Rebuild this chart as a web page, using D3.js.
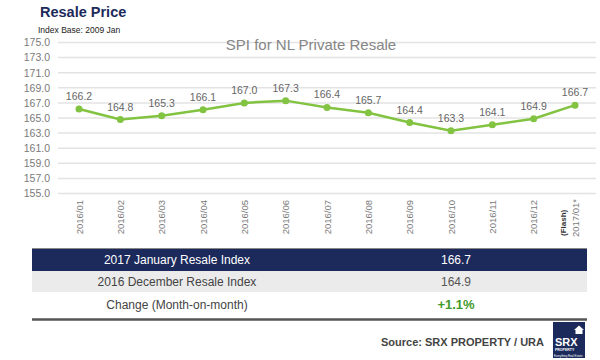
<!DOCTYPE html>
<html>
<head>
<meta charset="utf-8">
<script src="https://cdn.jsdelivr.net/npm/d3@7"></script>
<style>
  body { margin: 0; background: #fff; }
  svg { display: block; font-family: Arial, "Liberation Sans", sans-serif; }
</style>
</head>
<body>
<div id="chart"></div>
<script>
'use strict';

// chart data
const months = ['2016/01', '2016/02', '2016/03', '2016/04', '2016/05', '2016/06',
    '2016/07', '2016/08', '2016/09', '2016/10', '2016/11', '2016/12', '2017/01*'];
const spiValues = [166.2, 164.8, 165.3, 166.1, 167.0, 167.3, 166.4, 165.7, 164.4, 163.3, 164.1, 164.9, 166.7];
const yTicks = [155, 157, 159, 161, 163, 165, 167, 169, 171, 173, 175];

// summary table
const tableLabels = ['2017 January Resale Index', '2016 December Resale Index', 'Change (Month-on-month)'];
const tableValues = ['166.7', '164.9', '+1.1%'];

const width = 600, height = 360;
const navy = '#1c2a5b';
const green = '#82c341';

const svg = d3.select('#chart').append('svg')
    .attr('width', width)
    .attr('height', height);

// headings
svg.append('text')
    .attr('x', 40).attr('y', 17)
    .style('font-size', '14.5px').style('font-weight', 'bold')
    .style('fill', navy)
    .text('Resale Price');
svg.append('text')
    .attr('x', 38).attr('y', 33)
    .style('font-size', '8.5px').style('fill', '#222')
    .text('Index Base: 2009 Jan');

const x = d3.scalePoint()
    .domain(months)
    .range([79, 575]);
const y = d3.scaleLinear()
    .domain([155, 175])
    .range([193.5, 42.5]);

// gridlines
svg.append('g')
    .selectAll('line')
    .data(yTicks)
    .join('line')
        .attr('x1', 58).attr('x2', 596)
        .attr('y1', d => y(d)).attr('y2', d => y(d))
        .style('stroke', '#e3e3e3')
        .style('stroke-width', 1.5);

// y axis labels
const yAxis = svg.append('g')
    .attr('transform', 'translate(50, 0)')
    .call(d3.axisLeft(y).tickValues(yTicks).tickFormat(d3.format('.1f')).tickSize(0).tickPadding(0));
yAxis.select('.domain').remove();
yAxis.selectAll('text')
    .style('font-size', '10.5px')
    .style('fill', '#7a7a7a')
    .style('font-family', 'Arial, "Liberation Sans", sans-serif');

// chart title
svg.append('text')
    .attr('x', 311).attr('y', 50)
    .attr('text-anchor', 'middle')
    .style('font-size', '15px').style('fill', '#858585')
    .text('SPI for NL Private Resale');

// x labels, rotated
const xLabels = svg.append('g');
xLabels.selectAll('text')
    .data(months.slice(0, -1))
    .join('text')
        .attr('transform', d => `translate(${x(d) + 3.5}, 200) rotate(-90)`)
        .attr('text-anchor', 'end')
        .style('font-size', '9.5px').style('fill', '#7a7a7a')
        .text(d => d);
const last = months[months.length - 1];
xLabels.append('text')
    .attr('transform', `translate(${x(last) - 9}, 236) rotate(-90)`)
    .style('font-size', '8px').style('font-weight', 'bold').style('fill', '#333')
    .text('(Flash)');
xLabels.append('text')
    .attr('transform', `translate(${x(last) + 3.5}, 237) rotate(-90)`)
    .style('font-size', '9.5px').style('fill', '#7a7a7a')
    .text(last);

// line + markers
svg.append('path')
    .datum(spiValues)
    .attr('d', d3.line().x((d, i) => x(months[i])).y(d => y(d)))
    .style('fill', 'none')
    .style('stroke', green)
    .style('stroke-width', 2.5);
svg.append('g')
    .selectAll('circle')
    .data(spiValues)
    .join('circle')
        .attr('cx', (d, i) => x(months[i]))
        .attr('cy', d => y(d))
        .attr('r', 3.5)
        .style('fill', green);
svg.append('g')
    .selectAll('text')
    .data(spiValues)
    .join('text')
        .attr('x', (d, i) => x(months[i]))
        .attr('y', d => y(d) - 9)
        .attr('text-anchor', 'middle')
        .style('font-size', '10.5px').style('fill', '#666')
        .text(d => d.toFixed(1));

// table
const rowY = [249, 271, 292, 318];
const rowFill = [navy, '#ebebeb', '#fff'];
const table = svg.append('g');
table.append('line')
    .attr('x1', 32).attr('x2', 587).attr('y1', 248.5).attr('y2', 248.5)
    .style('stroke', '#888').style('stroke-width', 1);
table.selectAll('rect')
    .data(tableLabels)
    .join('rect')
        .attr('x', 32).attr('width', 555)
        .attr('y', (d, i) => rowY[i])
        .attr('height', (d, i) => rowY[i + 1] - rowY[i])
        .style('fill', (d, i) => rowFill[i]);
table.append('line')
    .attr('x1', 32).attr('x2', 587).attr('y1', 319.5).attr('y2', 319.5)
    .style('stroke', '#555').style('stroke-width', 2.5);
table.selectAll('text.lbl')
    .data(tableLabels)
    .join('text')
        .attr('class', 'lbl')
        .attr('x', 177)
        .attr('y', (d, i) => (rowY[i] + rowY[i + 1]) / 2 + 4)
        .attr('text-anchor', 'middle')
        .style('font-size', '12px')
        .style('fill', (d, i) => i === 0 ? '#fff' : '#444')
        .text(d => d);
table.selectAll('text.val')
    .data(tableValues)
    .join('text')
        .attr('class', 'val')
        .attr('x', 456)
        .attr('y', (d, i) => (rowY[i] + rowY[i + 1]) / 2 + 4)
        .attr('text-anchor', 'middle')
        .style('font-size', (d, i) => i === 2 ? '13px' : '12px')
        .style('font-weight', (d, i) => i === 2 ? 'bold' : 'normal')
        .style('fill', (d, i) => i === 0 ? '#fff' : (i === 2 ? '#3f9a2c' : '#555'))
        .text(d => d);

// source + logo
svg.append('text')
    .attr('x', 544).attr('y', 346)
    .attr('text-anchor', 'end')
    .style('font-size', '11px').style('font-weight', 'bold').style('fill', '#444')
    .text('Source:  SRX PROPERTY / URA');
const logo = svg.append('g').attr('transform', 'translate(553, 322)');
logo.append('rect').attr('width', 32).attr('height', 36).style('fill', navy);
logo.append('path')
    .attr('d', 'M21,8 L26,3.5 L31,8 L29.5,8 L29.5,12 L22.5,12 L22.5,8 Z')
    .style('fill', '#fff');
logo.append('text')
    .attr('x', 2).attr('y', 24)
    .style('font-size', '11px').style('font-weight', 'bold').style('fill', '#fff')
    .text('SRX');
logo.append('text')
    .attr('x', 2).attr('y', 29)
    .style('font-size', '3.5px').style('font-weight', 'bold').style('fill', '#fff')
    .text('PROPERTY');
logo.append('text')
    .attr('x', 1).attr('y', 34.5)
    .style('font-size', '2.8px').style('fill', '#fff')
    .text('Everything Real Estate');
</script>
</body>
</html>
